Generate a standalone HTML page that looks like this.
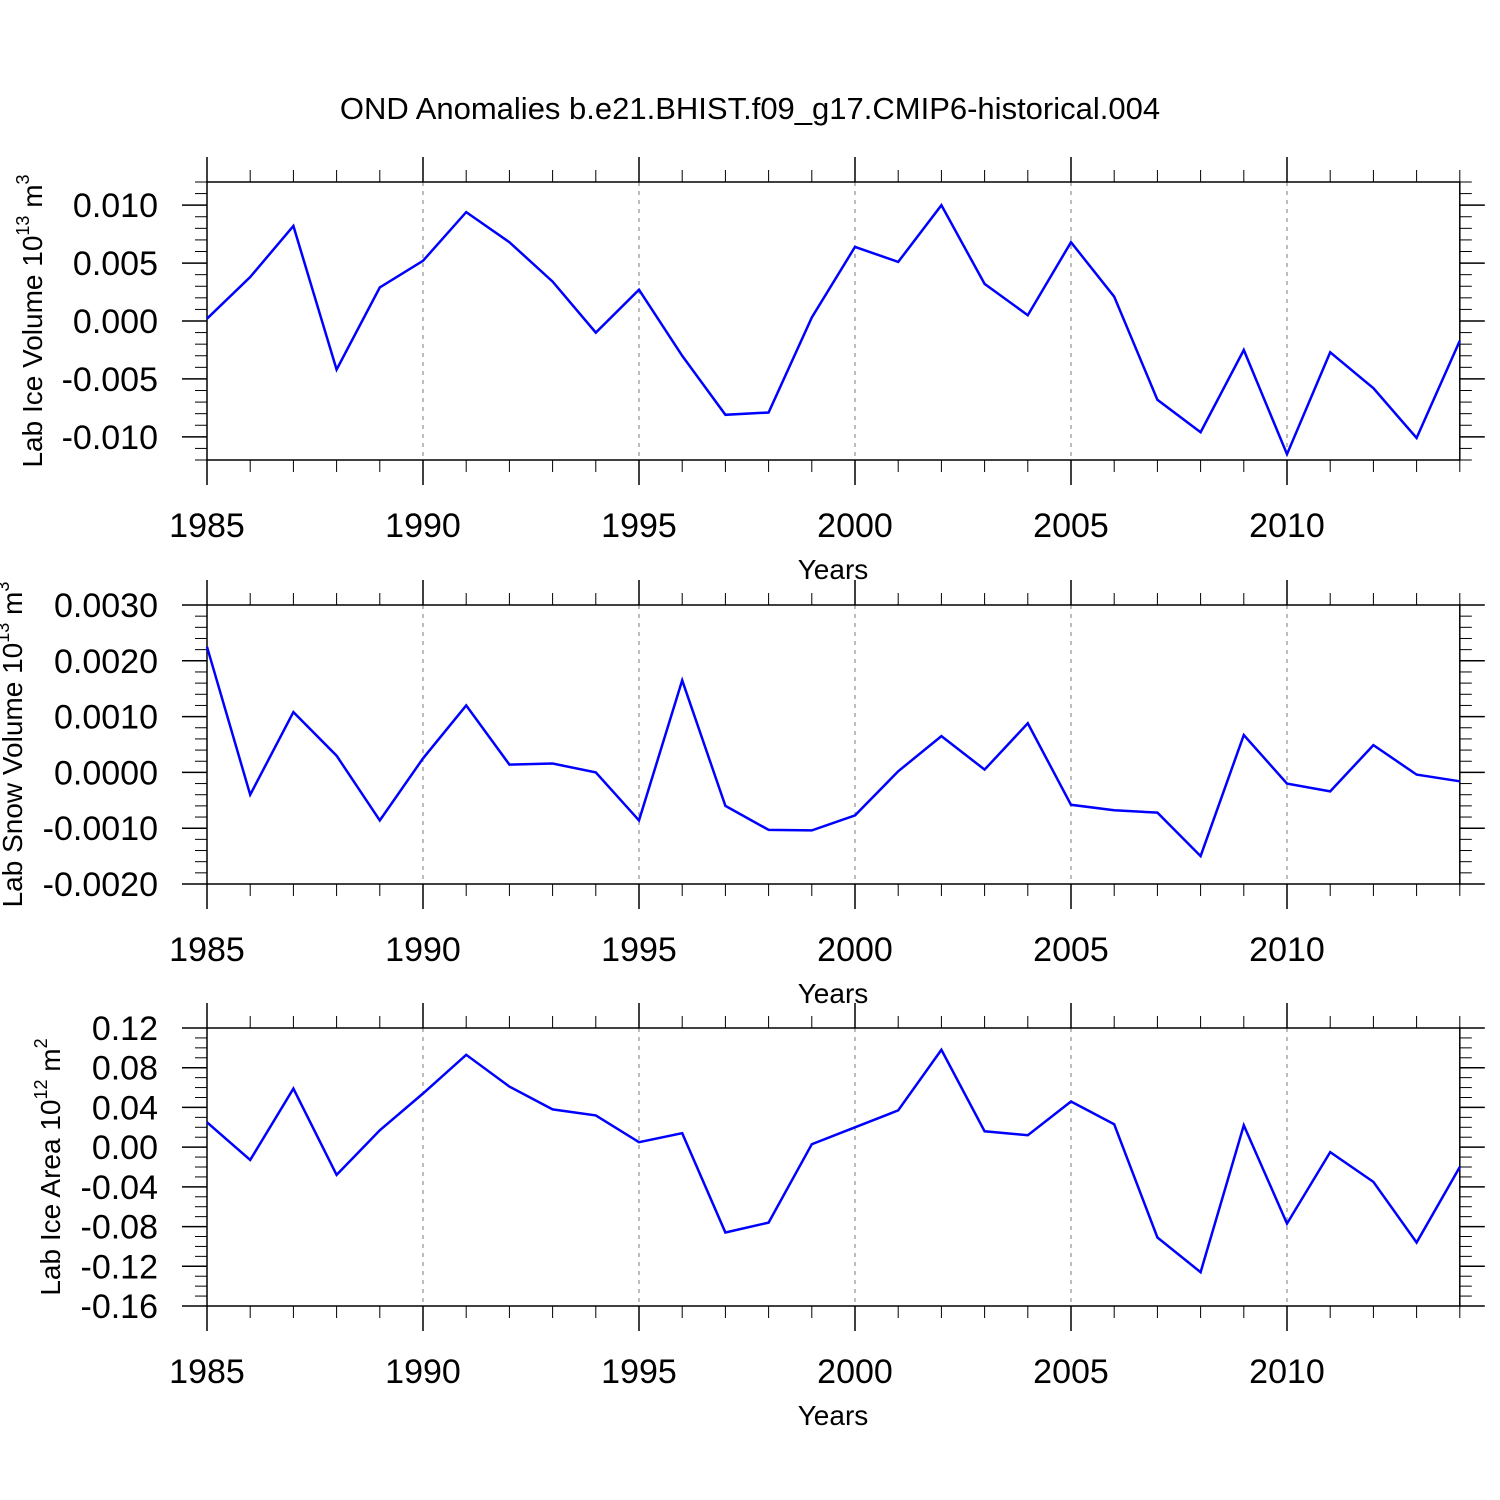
<!DOCTYPE html>
<html><head><meta charset="utf-8"><style>
body{margin:0;background:#fff}
svg{display:block;font-family:"Liberation Sans",sans-serif}
</style></head><body>
<svg id="c" width="1500" height="1500" viewBox="0 0 1500 1500">
<text x="750" y="119" text-anchor="middle" font-size="31">OND Anomalies b.e21.BHIST.f09_g17.CMIP6-historical.004</text>
</svg>
<script>
const years=[1985,1986,1987,1988,1989,1990,1991,1992,1993,1994,1995,1996,1997,1998,1999,2000,2001,2002,2003,2004,2005,2006,2007,2008,2009,2010,2011,2012,2013,2014];
const iceVolume=[0.0002,0.0038,0.0082,-0.0042,0.0029,0.0052,0.0094,0.0068,0.0034,-0.0010,0.0027,-0.0030,-0.0081,-0.0079,0.0003,0.0064,0.0051,0.0100,0.0032,0.0005,0.0068,0.0021,-0.0068,-0.0096,-0.0025,-0.0115,-0.0027,-0.0058,-0.0101,-0.0017];
const snowVolume=[0.00225,-0.0004,0.00108,0.0003,-0.00086,0.00025,0.0012,0.00014,0.00016,0.0,-0.00086,0.00165,-0.0006,-0.00103,-0.00104,-0.00077,0.00002,0.00065,0.00005,0.00088,-0.00058,-0.00068,-0.00072,-0.0015,0.00067,-0.0002,-0.00034,0.00049,-0.00004,-0.00016];
const iceArea=[0.025,-0.013,0.059,-0.028,0.017,0.054,0.093,0.061,0.038,0.032,0.005,0.014,-0.086,-0.076,0.003,0.020,0.037,0.098,0.016,0.012,0.046,0.023,-0.091,-0.126,0.022,-0.077,-0.005,-0.035,-0.096,-0.020];
const xTicks=[1985,1990,1995,2000,2005,2010];
const yTicks1=["0.010","0.005","0.000","-0.005","-0.010"];
const yTicks2=["0.0030","0.0020","0.0010","0.0000","-0.0010","-0.0020"];
const yTicks3=["0.12","0.08","0.04","0.00","-0.04","-0.08","-0.12","-0.16"];

const svg=document.getElementById('c');
const NS='http://www.w3.org/2000/svg';
const X0=207,X1=1459.8,XMIN=1985,XMAX=2014;
const xs=v=>X0+(v-XMIN)/(XMAX-XMIN)*(X1-X0);
function mk(tag,attrs,parent){const e=document.createElementNS(NS,tag);for(const k in attrs)e.setAttribute(k,attrs[k]);(parent||svg).appendChild(e);return e;}

const panels=[
 {top:182,bot:460,ymin:-0.012,ymax:0.012,major:0.005,minor:0.001,data:iceVolume,ticks:yTicks1,label:"Lab Ice Volume 10",sup:"13",unit:" m",usup:"3",lx:42,name:"ice-volume"},
 {top:605,bot:884,ymin:-0.002,ymax:0.003,major:0.001,minor:0.0002,data:snowVolume,ticks:yTicks2,label:"Lab Snow Volume 10",sup:"13",unit:" m",usup:"3",lx:22,name:"snow-volume"},
 {top:1028,bot:1306,ymin:-0.16,ymax:0.12,major:0.04,minor:0.01,data:iceArea,ticks:yTicks3,label:"Lab Ice Area 10",sup:"12",unit:" m",usup:"2",lx:60,name:"ice-area"}
];
panels.forEach(p=>{
  const g=mk('g',{});
  
  
  const ys=v=>p.bot-(v-p.ymin)/(p.ymax-p.ymin)*(p.bot-p.top);
  xTicks.slice(1).forEach(t=>{mk('line',{x1:xs(t),x2:xs(t),y1:p.top,y2:p.bot,stroke:'#999','stroke-width':1.3,'stroke-dasharray':'4,5'},g);});
  years.forEach(y=>{
    const maj=(y%5===0);const L=maj?25:12;
    mk('line',{x1:xs(y),x2:xs(y),y1:p.top,y2:p.top-L,stroke:'#000','stroke-width':maj?1.5:1},g);
    mk('line',{x1:xs(y),x2:xs(y),y1:p.bot,y2:p.bot+L,stroke:'#000','stroke-width':maj?1.5:1},g);
  });
  xTicks.forEach(t=>{
    const tx=mk('text',{x:xs(t),y:p.bot+77,'text-anchor':'middle','font-size':34},g);tx.textContent=t;
    
    
  });
  const xt=mk('text',{x:833,y:p.bot+119,'text-anchor':'middle','font-size':28},g);xt.textContent='Years';
  
  
  const n=Math.round((p.ymax-p.ymin)/p.minor);
  for(let i=0;i<=n;i++){
    const v=p.ymin+i*p.minor;const r=v/p.major;const maj=Math.abs(r-Math.round(r))<1e-6;const L=maj?25:12;
    const y=ys(v);
    mk('line',{x1:X0,x2:X0-L,y1:y,y2:y,stroke:'#000','stroke-width':maj?1.5:1},g);
    mk('line',{x1:X1,x2:X1+L,y1:y,y2:y,stroke:'#000','stroke-width':maj?1.5:1},g);
  }
  p.ticks.forEach(t=>{
    const v=parseFloat(t);
    const tx=mk('text',{x:158,y:ys(v)+12,'text-anchor':'end','font-size':34},g);tx.textContent=t;
    
    
  });
  mk('rect',{x:X0,y:p.top,width:X1-X0,height:p.bot-p.top,fill:'none',stroke:'#000','stroke-width':1.5},g);
  const cy=(p.top+p.bot)/2;
  const yt=mk('text',{transform:`translate(${p.lx},${cy}) rotate(-90)`,'text-anchor':'middle','font-size':28},g);
  
  
  yt.innerHTML=`${p.label}<tspan font-size="18" dy="-13">${p.sup}</tspan><tspan dy="13">${p.unit}</tspan><tspan font-size="18" dy="-13">${p.usup}</tspan>`;
  const pts=years.map((y,i)=>xs(y).toFixed(1)+','+ys(p.data[i]).toFixed(1)).join(' ');
  const pl=mk('polyline',{points:pts,fill:'none',stroke:'#0000ff','stroke-width':2.5,'stroke-linejoin':'miter'},g);
  
  
});
</script>
</body></html>
